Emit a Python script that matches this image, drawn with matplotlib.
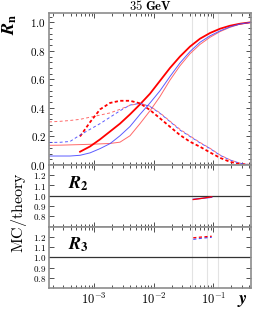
import numpy as np
import matplotlib
matplotlib.use('Agg')
import matplotlib.pyplot as plt
from matplotlib.ticker import LogLocator, MultipleLocator, NullFormatter, FuncFormatter

plt.rcParams['mathtext.fontset'] = 'cm'
# fontset "custom" is used only for the bold italic R labels
plt.rcParams['mathtext.rm'] = 'STIXGeneral:bold'
plt.rcParams['mathtext.it'] = 'STIXGeneral:italic:bold'
plt.rcParams['mathtext.bf'] = 'STIXGeneral:bold'

# y_cut grid and jet rates
ycut = [1.73e-4, 2.65e-4, 3.91e-4, 5.75e-4, 8.47e-4, 1.25e-3, 1.84e-3, 2.70e-3,
        3.98e-3, 5.86e-3, 8.63e-3, 1.27e-2, 1.87e-2, 2.75e-2, 4.06e-2, 5.97e-2,
        8.81e-2, 0.130, 0.191, 0.281, 0.43]
nan = np.nan
r2_mc1 = [nan, nan, nan, 0.093, 0.13, 0.18, 0.235, 0.29, 0.355, 0.425, 0.50,
          0.59, 0.68, 0.76, 0.83, 0.885, 0.925, 0.955, 0.976, 0.99, 1.0]
r2_mc2 = [0.063, 0.063, 0.063, 0.068, 0.085, 0.115, 0.15, 0.205, 0.27, 0.355, 0.435,
          0.52, 0.62, 0.715, 0.795, 0.86, 0.905, 0.94, 0.968, 0.988, 1.0]
r2_th = [0.138, 0.139, 0.141, 0.143, 0.145, 0.148, 0.151, 0.16, 0.205, 0.29, 0.38,
         0.48, 0.595, 0.695, 0.78, 0.845, 0.895, 0.935, 0.965, 0.987, 1.0]
r3_mc1 = [nan, nan, nan, 0.20, 0.30, 0.39, 0.435, 0.45, 0.45, 0.432, 0.385,
          0.327, 0.268, 0.21, 0.163, 0.128, 0.088, 0.05, 0.022, 0.007, 0.0]
r3_mc2 = [0.158, 0.159, 0.165, 0.21, 0.25, 0.29, 0.335, 0.38, 0.42, 0.432, 0.41,
          0.362, 0.304, 0.245, 0.2, 0.155, 0.115, 0.068, 0.035, 0.012, 0.0]
r3_th = [0.302, 0.306, 0.312, 0.32, 0.335, 0.35, 0.365, 0.39, 0.418, 0.432, 0.412,
         0.365, 0.307, 0.25, 0.203, 0.158, 0.117, 0.07, 0.036, 0.013, 0.0]

# ratios in the fit window
ycut_fit = [0.046, 0.065, 0.094]
ratio2_mc1 = [0.963, 0.975, 0.99]
ratio2_mc2 = [0.966, 0.975, 0.985]
ratio3_mc1 = [1.19, 1.198, 1.205]
ratio3_mc2 = [1.175, 1.187, 1.195]

vlines = [0.0435, 0.079, 0.121]

RED = '#ff0000'
BLUE = '#4a4aff'
LRED = '#ff6a6a'
GRAY = '#8c8c8c'

fig = plt.figure(figsize=(2.57, 3.10), dpi=100)
W, H = 257, 310
x0, x1 = 49 / W, 251 / W
ax = fig.add_axes([x0, 1 - 165 / H, x1 - x0, (165 - 13.3) / H])
ax2 = fig.add_axes([x0, 1 - 226.5 / H, x1 - x0, 61.5 / H])
ax3 = fig.add_axes([x0, 1 - 288 / H, x1 - x0, 61.5 / H])

fmt1 = FuncFormatter(lambda v, p: rf'$\mathbf{{{v:.1f}}}$')
fmtx = FuncFormatter(lambda v, p: rf'$\mathbf{{10^{{{int(round(np.log10(v)))}}}}}$')

for a in (ax, ax2, ax3):
    a.set_xscale('log')
    a.set_xlim(1.73e-4, 0.43)
    for v in vlines:
        a.axvline(v, color='#e3e3e3', lw=0.8, zorder=0)
    for s in a.spines.values():
        s.set_color(GRAY)
        s.set_linewidth(1.2)
    a.xaxis.set_major_locator(LogLocator(base=10))
    a.xaxis.set_minor_locator(LogLocator(base=10, subs=np.arange(2, 10)))
    a.xaxis.set_minor_formatter(NullFormatter())
    a.tick_params(which='both', direction='in', top=True, right=True,
                  color='#333333', width=0.6, pad=2)
    a.tick_params(which='major', length=3.5)
    a.tick_params(which='minor', length=2.2)
    a.yaxis.set_major_formatter(fmt1)

for a in (ax, ax2):
    a.xaxis.set_major_formatter(NullFormatter())
ax3.xaxis.set_major_formatter(fmtx)
ax3.tick_params(axis='x', labelsize=9, pad=3)

# main panel
ax.plot(ycut, r2_th, color=LRED, lw=0.7)
ax.plot(ycut, r3_th, color=LRED, lw=0.7, ls=(0, (3, 2.5)))
ax.plot(ycut, r2_mc1, color=RED, lw=1.3)
ax.plot(ycut, r3_mc1, color=RED, lw=1.3, ls=(0, (1.8, 1.3)))
ax.plot(ycut, r2_mc2, color=BLUE, lw=0.7, alpha=0.9)
ax.plot(ycut, r3_mc2, color=BLUE, lw=0.7, alpha=0.9, ls=(0, (3, 2.5)))
ax.set_ylim(0, 1.063)
ax.yaxis.set_major_locator(MultipleLocator(0.2))
ax.yaxis.set_minor_locator(MultipleLocator(0.04))
ax.tick_params(axis='y', labelsize=8)
ax.set_title(r'$\mathbf{35\ GeV}$', fontsize=9, pad=2)

# ratio panels
for a, lab, r1, r2, ls in ((ax2, r'$R_2$', ratio2_mc1, ratio2_mc2, '-'),
                           (ax3, r'$R_3$', ratio3_mc1, ratio3_mc2, (0, (2.5, 2)))):
    a.axhline(1.0, color='#333333', lw=0.9)
    a.plot(ycut_fit, r2, color=BLUE, lw=0.9, ls=ls)
    a.plot(ycut_fit, r1, color=RED, lw=0.9, ls=ls)
    a.set_ylim(0.7, 1.3)
    a.set_yticks([0.8, 0.9, 1.0, 1.1, 1.2])
    a.tick_params(axis='y', labelsize=6.5, pad=2)
    a.text(0.094, 0.70, lab, transform=a.transAxes, fontsize=13,
           va='center', ha='left', math_fontfamily='custom')

fig.text(10 / W, 1 - 24 / H, r'$R_\mathrm{n}$', rotation=90, fontsize=13,
         ha='center', va='center', math_fontfamily='custom')
fig.text(19 / W, 1 - 213 / H, r'$\mathrm{MC/theory}$', rotation=90, fontsize=11.5,
         ha='center', va='center')
ax3.text(0.985, -0.2, r'$y$', transform=ax3.transAxes, fontsize=13,
         ha='right', va='center', math_fontfamily='custom')

fig.savefig('out.png', dpi=100)
